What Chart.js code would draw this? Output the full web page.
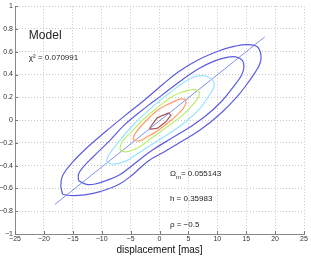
<!DOCTYPE html>
<html>
<head>
<meta charset="utf-8">
<script src="https://cdn.jsdelivr.net/npm/chart.js@4"></script>
<style>
    html, body { margin: 0; padding: 0; background: #fff; }
    #wrap { width: 311px; height: 256px; position: relative; }
</style>
</head>
<body>
<div id="wrap"><canvas id="myChart"></canvas></div>
<script>
// Axis ticks
const xTicks = [-25, -20, -15, -10, -5, 0, 5, 10, 15, 20, 25];
const yTicks = [-1, -0.8, -0.6, -0.4, -0.2, 0, 0.2, 0.4, 0.6, 0.8, 1];

// Main regression line
const lineX = [-18.1, 18.2];
const lineY = [-0.74, 0.73];

// Contours (outermost first), each closed on itself
const outerX = [-16.75, -17.07, -16.74, -15.14, -12.70, -9.42, -6.08, -2.70, 0.59, 3.30, 6.74, 10.36, 13.04, 15.04, 16.85,
    17.55, 17.39, 16.60, 15.57, 13.40, 10.33, 6.95, 3.23, 0.99, -2.05, -4.65, -7.06, -10.28, -12.93, -15.04, -16.75];
const outerY = [-0.653, -0.576, -0.484, -0.375, -0.249, -0.105, 0.035, 0.172, 0.315, 0.425, 0.530, 0.609, 0.649, 0.663, 0.646,
    0.573, 0.499, 0.423, 0.347, 0.204, 0.047, -0.090, -0.206, -0.274, -0.363, -0.479, -0.565, -0.628, -0.656, -0.663, -0.653];

const secondX = [-14.01, -14.01, -13.33, -11.51, -8.53, -6.01, -1.99, 0.09, 3.53, 6.68, 9.55, 11.71, 13.20, 14.36,
    14.60, 14.19, 12.94, 10.72, 8.17, 5.35, 2.37, -1.34, -4.78, -6.87, -9.33, -11.12, -12.61, -14.01];
const secondY = [-0.531, -0.475, -0.420, -0.324, -0.176, -0.040, 0.127, 0.206, 0.339, 0.449, 0.520, 0.551, 0.555, 0.523,
    0.466, 0.393, 0.303, 0.163, 0.044, -0.059, -0.151, -0.267, -0.400, -0.479, -0.533, -0.561, -0.564, -0.531];

const cyanX = [-9.19, -8.83, -7.01, -4.60, -1.56, 1.77, 5.32, 7.16, 8.43, 9.33,
    9.40, 8.77, 7.01, 4.19, 1.20, -1.61, -4.07, -5.86, -7.67, -8.62, -9.19];
const cyanY = [-0.359, -0.311, -0.188, -0.045, 0.100, 0.240, 0.366, 0.390, 0.379, 0.343,
    0.289, 0.231, 0.103, -0.027, -0.133, -0.222, -0.305, -0.360, -0.386, -0.381, -0.359];

const greenX = [-6.82, -6.72, -6.18, -4.71, -2.89, -1.19, 0.58, 2.26, 4.07, 5.34, 6.21, 6.90,
    6.74, 6.15, 4.11, 1.21, -1.60, -3.56, -5.04, -6.05, -6.82];
const greenY = [-0.264, -0.221, -0.171, -0.095, 0.001, 0.076, 0.147, 0.209, 0.248, 0.266, 0.267, 0.244,
    0.205, 0.158, 0.048, -0.063, -0.166, -0.239, -0.271, -0.278, -0.264];

const orangeX = [-4.58, -4.36, -3.41, -1.59, -0.29, 1.22, 2.85, 3.93, 4.58,
    4.41, 3.68, 1.49, -0.60, -2.12, -3.55, -4.58];
const orangeY = [-0.173, -0.131, -0.065, 0.031, 0.089, 0.133, 0.171, 0.187, 0.173,
    0.128, 0.076, -0.024, -0.103, -0.147, -0.183, -0.173];

const brownX = [-1.64, -0.40, 0.66, 1.60, 1.97, 1.10, -0.40, -1.50, -1.64];
const brownY = [-0.065, 0.020, 0.044, 0.063, 0.042, -0.015, -0.073, -0.080, -0.065];

// Labels drawn on the plot
const notes = [
    { text: 'Model', x: -22.6, y: 0.745, size: 12 },
    { text: 'χ² = 0.070991', x: -22.6, y: 0.545, size: 8 },
    { text: 'Ωm= 0.055143', x: 1.8, y: -0.475, size: 8 },
    { text: 'h = 0.35983', x: 1.8, y: -0.695, size: 8 },
    { text: 'ρ = −0.5', x: 1.8, y: -0.915, size: 8 }
];

const fontFamily = '"Liberation Sans", Arial, sans-serif';

function toPoints(xs, ys) {
    return xs.map((x, i) => ({ x: x, y: ys[i] }));
}

function curve(xs, ys, color, tension) {
    return {
        data: toPoints(xs, ys),
        borderColor: color,
        borderWidth: 1.2,
        pointRadius: 0,
        showLine: true,
        fill: false,
        tension: tension
    };
}

function fmt(v) {
    const r = Math.round(v * 10) / 10;
    return String(r).replace('-', '−');
}

// Inward tick marks and text notes
const extras = {
    id: 'extras',
    afterDraw(chart) {
        const ctx = chart.ctx;
        const xs = chart.scales.x;
        const ys = chart.scales.y;
        const area = chart.chartArea;
        ctx.save();
        ctx.strokeStyle = '#777';
        ctx.lineWidth = 1;
        ctx.beginPath();
        xTicks.forEach(v => {
            const px = Math.round(xs.getPixelForValue(v)) + 0.5;
            ctx.moveTo(px, area.bottom);
            ctx.lineTo(px, area.bottom - 3);
        });
        yTicks.forEach(v => {
            const py = Math.round(ys.getPixelForValue(v)) + 0.5;
            ctx.moveTo(area.left, py);
            ctx.lineTo(area.left + 3, py);
        });
        ctx.stroke();

        ctx.fillStyle = '#222';
        ctx.textBaseline = 'middle';
        ctx.textAlign = 'left';
        notes.forEach(n => {
            ctx.font = n.size + 'px ' + fontFamily;
            const px = xs.getPixelForValue(n.x);
            const py = ys.getPixelForValue(n.y);
            if (n.text.startsWith('Ωm')) {
                // subscript m
                ctx.fillText('Ω', px, py);
                const w = ctx.measureText('Ω').width;
                ctx.font = '6px ' + fontFamily;
                ctx.fillText('m', px + w, py + 3);
                const w2 = ctx.measureText('m').width;
                ctx.font = n.size + 'px ' + fontFamily;
                ctx.fillText(n.text.slice(2), px + w + w2, py);
            } else {
                ctx.fillText(n.text, px, py);
            }
        });
        ctx.restore();
    }
};

const ctx = document.getElementById('myChart').getContext('2d');
const chart = new Chart(ctx, {
    type: 'scatter',
    data: {
        datasets: [
            curve(outerX, outerY, '#5c5ce0', 0.4),
            curve(secondX, secondY, '#5c5ce0', 0.4),
            curve(cyanX, cyanY, '#99e3ff', 0.4),
            curve(greenX, greenY, '#bdee6a', 0.4),
            curve(orangeX, orangeY, '#ff9a6a', 0.4),
            curve(brownX, brownY, '#a85656', 0),
            {
                data: toPoints(lineX, lineY),
                borderColor: '#7f8ff0',
                borderWidth: 1,
                pointRadius: 0,
                showLine: true,
                fill: false
            }
        ]
    },
    options: {
        responsive: true,
        maintainAspectRatio: false,
        animation: false,
        layout: { padding: { left: 0, right: 7, top: 6, bottom: 0 } },
        plugins: {
            legend: { display: false },
            tooltip: { enabled: false }
        },
        scales: {
            x: {
                type: 'linear',
                min: -25,
                max: 25,
                afterBuildTicks: scale => { scale.ticks = xTicks.map(v => ({ value: v })); },
                afterFit: scale => { scale.height = 22; },
                ticks: {
                    color: '#333',
                    font: { size: 7, family: fontFamily },
                    padding: 1,
                    maxRotation: 0,
                    callback: v => fmt(v)
                },
                grid: {
                    color: '#c8c8c8',
                    drawTicks: false
                },
                border: { color: '#888', dash: [1, 2] },
                title: {
                    display: true,
                    text: 'displacement [mas]',
                    color: '#111',
                    font: { size: 10, family: fontFamily },
                    padding: { top: 0, bottom: 0 }
                }
            },
            y: {
                type: 'linear',
                min: -1,
                max: 1,
                afterBuildTicks: scale => { scale.ticks = yTicks.map(v => ({ value: v })); },
                afterFit: scale => { scale.width = 15; },
                ticks: {
                    color: '#333',
                    font: { size: 7, family: fontFamily },
                    padding: 2,
                    callback: v => fmt(v)
                },
                grid: {
                    color: '#c8c8c8',
                    drawTicks: false
                },
                border: { color: '#888', dash: [1, 2] }
            }
        }
    },
    plugins: [extras]
});
</script>
</body>
</html>
